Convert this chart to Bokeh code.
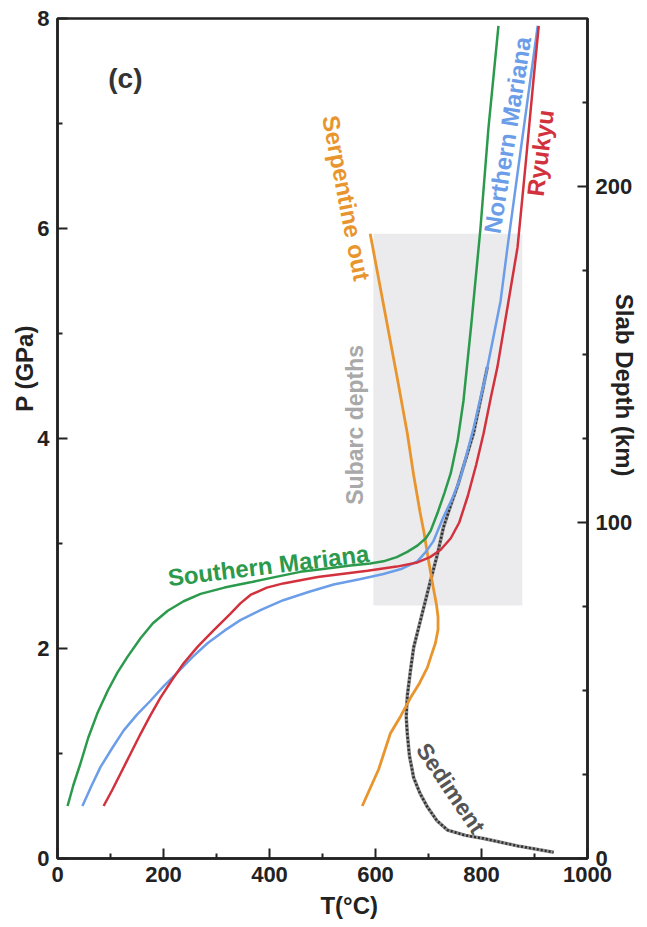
import math
from bokeh.plotting import figure
from bokeh.models import LinearAxis, Range1d, FixedTicker
from bokeh.core.properties import value
from bokeh.embed import file_html
from bokeh.resources import INLINE

# ---------------- data (T in degC, P in GPa) ----------------
south_T = [19, 30, 43, 58, 75, 95, 113, 132, 157, 180, 208, 238, 270, 315, 364, 410, 458, 505, 553,
           590, 615, 640, 660, 679, 695, 704, 717, 730, 742, 755, 766, 781, 798, 813, 832]
south_P = [0.50, 0.70, 0.90, 1.15, 1.38, 1.60, 1.77, 1.92, 2.10, 2.24, 2.36, 2.45, 2.52, 2.58, 2.63, 2.68, 2.73, 2.76, 2.79,
           2.81, 2.83, 2.87, 2.92, 2.98, 3.05, 3.12, 3.29, 3.48, 3.67, 3.98, 4.36, 5.10, 6.00, 6.95, 7.93]

north_T = [47, 64, 81, 103, 125, 150, 175, 200, 226, 255, 283, 315, 345, 385, 426, 475, 521, 570, 615,
           650, 679, 695, 709, 728, 745, 760, 785, 808, 836, 849, 870, 892, 906]
north_P = [0.50, 0.69, 0.87, 1.05, 1.22, 1.37, 1.50, 1.64, 1.77, 1.92, 2.05, 2.17, 2.27, 2.37, 2.46, 2.54, 2.61, 2.66, 2.71,
           2.76, 2.83, 2.92, 3.02, 3.25, 3.43, 3.62, 4.10, 4.60, 5.31, 5.82, 6.60, 7.41, 7.93]

ryukyu_T = [87, 103, 119, 138, 157, 175, 194, 216, 238, 265, 294, 326, 345, 364, 395, 426, 491, 585, 640,
            679, 703, 723, 742, 758, 774, 790, 804, 818, 830, 851, 868, 883, 898, 908]
ryukyu_P = [0.50, 0.65, 0.81, 1.00, 1.19, 1.36, 1.53, 1.70, 1.86, 2.02, 2.17, 2.33, 2.43, 2.51, 2.58, 2.62, 2.68, 2.74, 2.78,
            2.82, 2.87, 2.94, 3.05, 3.20, 3.45, 3.75, 4.05, 4.40, 4.68, 5.31, 5.82, 6.60, 7.41, 7.93]

serp_T = [590, 616, 642, 660, 672, 684, 691, 700, 709, 715, 718, 718, 713, 705, 698, 683, 666, 648, 628, 606, 575]
serp_P = [5.95, 5.25, 4.55, 4.05, 3.65, 3.30, 3.12, 2.84, 2.58, 2.42, 2.30, 2.18, 2.05, 1.93, 1.82, 1.67, 1.53, 1.36, 1.19, 0.85, 0.50]

sed_T = [811, 798, 785, 770, 755, 741, 728, 717, 704, 685, 672, 666, 660, 658, 660, 664, 672, 684, 698, 716, 736, 770, 804, 868, 936]
sed_P = [4.68, 4.36, 4.05, 3.80, 3.55, 3.35, 3.15, 2.90, 2.65, 2.27, 2.01, 1.79, 1.55, 1.35, 1.19, 0.98, 0.77, 0.62, 0.49, 0.36, 0.27, 0.22, 0.19, 0.12, 0.06]

subarc_T = [596, 877]
subarc_P = [2.41, 5.95]

x_ticks = [0, 200, 400, 600, 800, 1000]
x_minor = [100, 300, 500, 700, 900]
y_ticks = [0, 2, 4, 6, 8]
y_minor = [1, 3, 5, 7]
depth_ticks = [0, 100, 200]
depth_minor = [25, 50, 75, 125, 150, 175, 225]
depth_range = [0, 250]

FONT = "Liberation Sans"
AX = "#222222"
NB = "\u00a0"  # non-breaking space used to offset axis titles along their axis

p = figure(frame_width=530, frame_height=840,
           min_border_left=57, min_border_right=58, min_border_top=18, min_border_bottom=61,
           x_range=Range1d(0, 1000), y_range=Range1d(0, 8),
           output_backend="svg", toolbar_location=None)
p.background_fill_color = "white"
p.border_fill_color = "white"
p.outline_line_color = AX
p.outline_line_width = 2.5
p.xgrid.grid_line_color = None
p.ygrid.grid_line_color = None

p.extra_y_ranges = {"depth": Range1d(depth_range[0], depth_range[1])}
raxis = LinearAxis(y_range_name="depth")
p.add_layout(raxis, "right")

p.xaxis.ticker = FixedTicker(ticks=x_ticks, minor_ticks=x_minor)
p.yaxis[0].ticker = FixedTicker(ticks=y_ticks, minor_ticks=y_minor)
raxis.ticker = FixedTicker(ticks=depth_ticks, minor_ticks=depth_minor)

xaxis = p.xaxis[0]
yaxis = p.yaxis[0]
for ax in [xaxis, yaxis, raxis]:
    ax.axis_line_color = AX
    ax.axis_line_width = 2.5
    ax.major_tick_line_color = AX
    ax.minor_tick_line_color = AX
    ax.major_tick_line_width = 2
    ax.minor_tick_line_width = 2
    ax.major_tick_in = 10
    ax.major_tick_out = 0
    ax.minor_tick_in = 5
    ax.minor_tick_out = 0
    ax.major_label_text_font = FONT
    ax.major_label_text_font_style = "bold"
    ax.major_label_text_font_size = "22px"
    ax.major_label_text_color = AX
    ax.major_label_standoff = 8
    ax.axis_label_text_font = FONT
    ax.axis_label_text_font_style = "bold"
    ax.axis_label_text_font_size = "24px"
    ax.axis_label_text_color = AX

xaxis.axis_label = NB * 8 + "T(°C)"
xaxis.axis_label_standoff = 7
yaxis.axis_label = NB * 21 + "P (GPa)"
yaxis.axis_label_standoff = -4
raxis.axis_label = "Slab Depth (km)" + NB * 16
raxis.axis_label_standoff = -24

# subarc depth band
p.quad(left=subarc_T[0], right=subarc_T[1], bottom=subarc_P[0], top=subarc_P[1],
       fill_color="#ebebed", line_color=None)

# curves
p.line(sed_T, sed_P, line_color="#8e8e8e", line_width=3.5)
p.line(sed_T, sed_P, line_color="#2e2e2e", line_width=2.5, line_dash="2 2")
p.line(serp_T, serp_P, line_color="#e8952e", line_width=2.8)
p.line(south_T, south_P, line_color="#2b9a4c", line_width=2.5)
p.line(north_T, north_P, line_color="#6b9de8", line_width=2.5)
p.line(ryukyu_T, ryukyu_P, line_color="#d2323e", line_width=2.5)

def txt(x, y, s, color, angle_deg, size="24px", style="bold"):
    p.text(x=[x], y=[y], text=[s], angle=math.radians(angle_deg),
           text_color=color, text_font=value(FONT), text_font_style=style,
           text_font_size=size, text_align="center", text_baseline="middle")

txt(128, 7.43, "(c)", "#333333", 0, size="28px")
txt(398, 2.79, "Southern Mariana", "#2b9a4c", 7)
txt(849, 6.89, "Northern Mariana", "#6b9de8", 81)
txt(911, 6.72, "Ryukyu", "#d2323e", 83)
txt(545, 6.29, "Serpentine out", "#e8952e", -79)
txt(562, 4.13, "Subarc depths", "#a9a9a9", 90, size="23px")
txt(742, 0.67, "Sediment", "#555555", -56, size="23px")

open("out.html", "w").write(file_html(p, INLINE))
